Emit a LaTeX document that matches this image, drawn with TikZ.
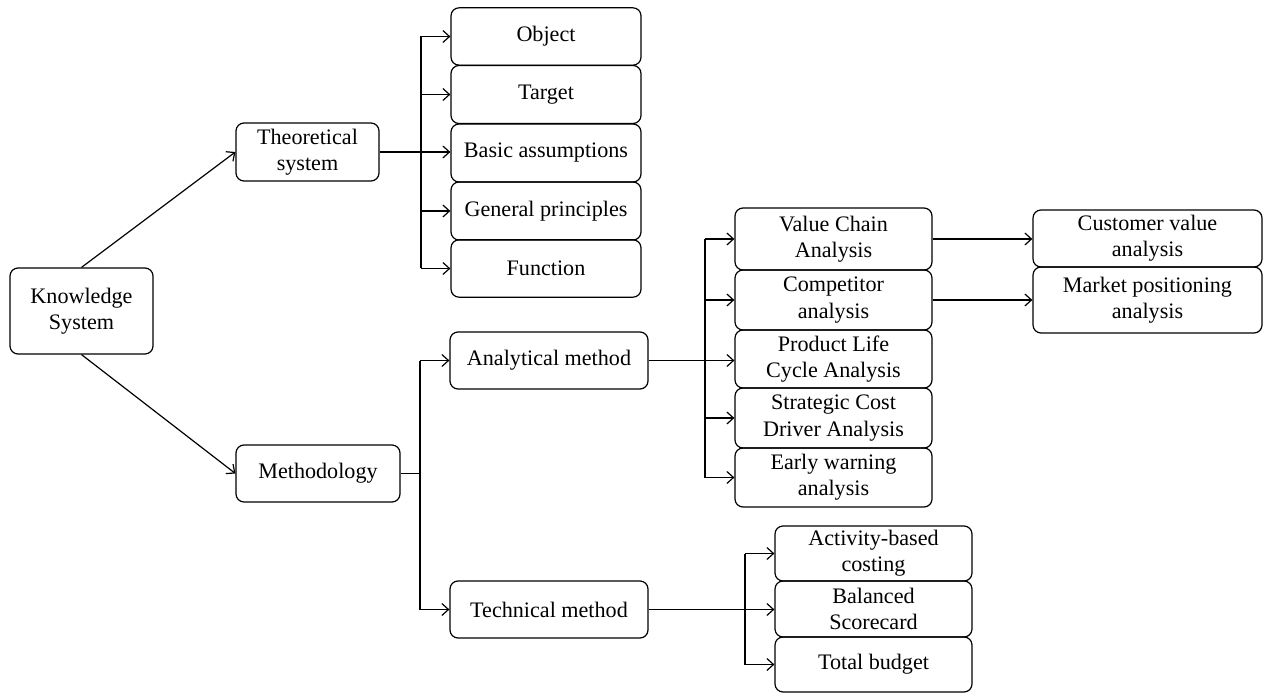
\documentclass[tikz,border=0pt]{standalone}
\usepackage{fontspec}
\setmainfont{Liberation Serif}
\usetikzlibrary{arrows.meta}
\tikzset{
  bx/.style={draw, line width=0.9pt, rounded corners=6pt, align=center, inner sep=1pt,
    font=\fontsize{16.6pt}{19.6pt}\selectfont},
  arr/.style={line width=0.9pt, -{Straight Barb[length=5pt,width=9pt,line width=0.9pt]}},
  ln/.style={line width=0.9pt}
}
\begin{document}
\begin{tikzpicture}[x=0.75pt,y=-0.75pt]
\useasboundingbox (0,0) rectangle (1263,695);
% level 0/1
\node[bx, minimum width=107.25pt, minimum height=64.5pt] (ks) at (81.5,311) {Knowledge\\System};
\node[bx, minimum width=107.25pt, minimum height=43.5pt] (theo) at (307.5,152) {Theoretical\\system};
\node[bx, minimum width=123pt, minimum height=42.75pt] (meth) at (318,473.5) {Methodology};
% theoretical children
\node[bx, minimum width=142.5pt, minimum height=43pt] (obj) at (546,36.5) {Object};
\node[bx, minimum width=142.5pt, minimum height=43.5pt] (tar) at (546,94.5) {Target};
\node[bx, minimum width=142.5pt, minimum height=43.5pt] (bas) at (546,153) {Basic assumptions};
\node[bx, minimum width=142.5pt, minimum height=43.5pt] (gen) at (546,211) {General principles};
\node[bx, minimum width=142.5pt, minimum height=43pt] (fun) at (546,268.5) {Function};
% methodology children
\node[bx, minimum width=148.5pt, minimum height=42.75pt] (ana) at (549,360.5) {Analytical method};
\node[bx, minimum width=148.5pt, minimum height=42.75pt] (tec) at (549,609.5) {Technical method};
% analytical children
\node[bx, minimum width=147.75pt, minimum height=46.5pt] (vca) at (833.5,239) {Value Chain\\Analysis};
\node[bx, minimum width=147.75pt, minimum height=45pt] (com) at (833.5,300) {Competitor\\analysis};
\node[bx, minimum width=147.75pt, minimum height=43.5pt] (plc) at (833.5,359) {Product Life\\Cycle Analysis};
\node[bx, minimum width=147.75pt, minimum height=45pt] (scd) at (833.5,418) {Strategic Cost\\Driver Analysis};
\node[bx, minimum width=147.75pt, minimum height=44.25pt] (ewa) at (833.5,477.5) {Early warning\\analysis};
% far right
\node[bx, minimum width=171.75pt, minimum height=42.75pt] (cva) at (1147.5,238.5) {Customer value\\analysis};
\node[bx, minimum width=171.75pt, minimum height=49.5pt] (mpa) at (1147.5,300) {Market positioning\\analysis};
% technical children
\node[bx, minimum width=147.75pt, minimum height=41.25pt] (abc) at (873.5,553.5) {Activity-based\\costing};
\node[bx, minimum width=147.75pt, minimum height=42pt] (bsc) at (873.5,609) {Balanced\\Scorecard};
\node[bx, minimum width=147.75pt, minimum height=41.25pt] (tb) at (873.5,664.5) {Total budget};
% trunk coordinates
\coordinate (t1) at (421,0);
\coordinate (t2) at (420,0);
\coordinate (t3) at (705,0);
\coordinate (t4) at (745,0);
% connectors
\draw[arr] (ks.north) -- (theo.west);
\draw[arr] (ks.south) -- (meth.west);
% theoretical
\draw[arr] (theo.east) -- (bas.west |- theo.east);
\draw[ln] (obj.west -| t1) -- (fun.west -| t1);
\foreach \n in {obj,tar,gen,fun} \draw[arr] (\n.west -| t1) -- (\n.west);
% methodology
\draw[ln] (meth.east) -- (meth.east -| t2);
\draw[ln] (ana.west -| t2) -- (tec.west -| t2);
\draw[arr] (ana.west -| t2) -- (ana.west);
\draw[arr] (tec.west -| t2) -- (tec.west);
% analytical
\draw[arr] (ana.east) -- (plc.west |- ana.east);
\draw[ln] (vca.west -| t3) -- (ewa.west -| t3);
\foreach \n in {vca,com,scd,ewa} \draw[arr] (\n.west -| t3) -- (\n.west);
\draw[arr] (vca.east) -- (cva.west |- vca.east);
\draw[arr] (com.east) -- (mpa.west |- com.east);
% technical
\draw[arr] (tec.east) -- (bsc.west |- tec.east);
\draw[ln] (abc.west -| t4) -- (tb.west -| t4);
\foreach \n in {abc,tb} \draw[arr] (\n.west -| t4) -- (\n.west);
\end{tikzpicture}
\end{document}
